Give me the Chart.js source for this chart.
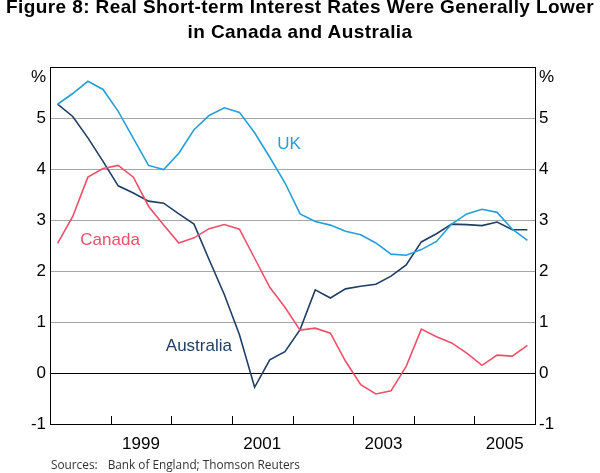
<!DOCTYPE html>
<html><head><meta charset="utf-8">
<script src="https://cdn.jsdelivr.net/npm/chart.js@4.4.1/dist/chart.umd.min.js"></script>
<style>
html,body{margin:0;padding:0;background:#fff;}
#wrap{position:relative;width:600px;height:473px;overflow:hidden;background:#fff;}
canvas{position:absolute;left:0;top:0;}
#title{position:absolute;left:0;top:-5px;width:600px;text-align:center;font-family:"Liberation Sans",Arial,sans-serif;font-weight:bold;font-size:19px;letter-spacing:0.4px;line-height:24.5px;color:#000;}
#src{position:absolute;left:51px;top:456px;font-family:"Open Sans",sans-serif;font-size:11.8px;color:#333;white-space:nowrap;}
#src span{margin-left:10px;}
</style></head><body>
<div id="wrap">
<canvas id="c" width="600" height="473"></canvas>
<div id="title">Figure 8: Real Short-term Interest Rates Were Generally Lower<br>in Canada and Australia</div>
<div id="src">Sources:<span>Bank of England; Thomson Reuters</span></div>
</div>
<script>
// Quarterly observations, 1998Q1 - 2005Q4
const quarters = ['1998Q1','1998Q2','1998Q3','1998Q4','1999Q1','1999Q2','1999Q3','1999Q4',
  '2000Q1','2000Q2','2000Q3','2000Q4','2001Q1','2001Q2','2001Q3','2001Q4',
  '2002Q1','2002Q2','2002Q3','2002Q4','2003Q1','2003Q2','2003Q3','2003Q4',
  '2004Q1','2004Q2','2004Q3','2004Q4','2005Q1','2005Q2','2005Q3','2005Q4'];
const uk = [5.27,5.48,5.72,5.56,5.13,4.60,4.07,3.99,4.31,4.77,5.05,5.20,5.11,4.71,4.23,3.73,
  3.12,2.97,2.90,2.78,2.71,2.55,2.33,2.31,2.42,2.58,2.92,3.12,3.21,3.15,2.82,2.60];
const canada = [2.54,3.07,3.84,4.01,4.07,3.84,3.27,2.90,2.55,2.65,2.83,2.91,2.82,2.25,1.68,1.29,
  0.84,0.88,0.78,0.23,-0.23,-0.41,-0.35,0.13,0.86,0.71,0.59,0.39,0.15,0.35,0.33,0.54];
const australia = [5.27,5.03,4.61,4.15,3.67,3.53,3.37,3.33,3.12,2.92,2.22,1.54,0.75,-0.28,0.26,0.42,
  0.85,1.63,1.47,1.65,1.70,1.74,1.90,2.12,2.57,2.73,2.92,2.91,2.89,2.96,2.81,2.81];
const yearLabels = ['1999','2001','2003','2005'];
const tickMarkYears = [1999,2000,2001,2002,2003,2004,2005];
const yTicks = [-1,0,1,2,3,4,5,6];

const UKC = '#259fd9', CAC = '#ef4f68', AUC = '#1f3e66';
const FONT = '"Liberation Sans", Arial, sans-serif';

// quarter string -> mid-quarter position on a year axis
const qx = quarters.map(q => +q.slice(0,4) + (+q.slice(5) - 0.5) / 4);
const pts = arr => arr.map((v,i) => ({x: qx[i], y: v}));

const seriesLabels = [
  {text:'UK', x:2001.75, y:4.48, color:UKC},
  {text:'Canada', x:1998.50, y:2.60, color:CAC},
  {text:'Australia', x:1999.91, y:0.52, color:AUC}
];

const extras = {
  id:'extras',
  afterDatasetsDraw(chart){
    const {ctx, chartArea:a, scales:{x, y}} = chart;
    ctx.save();
    ctx.strokeStyle = '#000'; ctx.lineWidth = 1;
    tickMarkYears.forEach(yr => {
      const px = Math.round(x.getPixelForValue(yr)) + 0.5;
      ctx.beginPath(); ctx.moveTo(px, a.bottom); ctx.lineTo(px, a.bottom - 8); ctx.stroke();
    });
    ctx.font = '17px ' + FONT;
    ctx.textAlign = 'left'; ctx.textBaseline = 'middle';
    seriesLabels.forEach(l => {
      ctx.fillStyle = l.color;
      ctx.fillText(l.text, x.getPixelForValue(l.x), y.getPixelForValue(l.y));
    });
    ctx.restore();
  }
};

const yTickCfg = {
  stepSize:1, padding:4, color:'#000', font:{family:FONT, size:17},
  callback: v => v === 6 ? ['', '%'] : String(v)
};

new Chart(document.getElementById('c'), {
  type:'line',
  data:{datasets:[
    {label:'UK', data:pts(uk), borderColor:UKC, borderWidth:1.6, pointRadius:0, tension:0},
    {label:'Canada', data:pts(canada), borderColor:CAC, borderWidth:1.6, pointRadius:0, tension:0},
    {label:'Australia', data:pts(australia), borderColor:AUC, borderWidth:1.6, pointRadius:0, tension:0}
  ]},
  options:{
    responsive:false, animation:false, devicePixelRatio:1,
    layout:{padding:{top:67, bottom:0, left:0, right:0}},
    plugins:{legend:{display:false}, tooltip:{enabled:false}},
    scales:{
      x:{type:'linear', min:1998, max:2006,
        afterBuildTicks: s => { s.ticks = yearLabels.map(l => ({value: +l + 0.5})); },
        ticks:{autoSkip:false, maxRotation:0, padding:10, color:'#000', font:{family:FONT, size:17},
          callback: v => String(Math.floor(v))},
        grid:{display:false, drawTicks:false},
        border:{display:false},
        afterFit: s => { s.height = 49; }
      },
      y:{type:'linear', position:'left', min:-1, max:6,
        afterBuildTicks: s => { s.ticks = yTicks.map(v => ({value:v})); },
        ticks:yTickCfg,
        grid:{drawTicks:false, lineWidth:1,
          color: c => ([-1,0,6].includes(c.tick.value) ? '#000' : '#a6a6a6')},
        border:{color:'#000', width:1},
        afterFit: s => { s.width = 50; }
      },
      y2:{type:'linear', position:'right', min:-1, max:6,
        afterBuildTicks: s => { s.ticks = yTicks.map(v => ({value:v})); },
        ticks:yTickCfg,
        grid:{drawOnChartArea:false, drawTicks:false},
        border:{color:'#000', width:1},
        afterFit: s => { s.width = 65; }
      }
    }
  },
  plugins:[extras]
});
</script>
</body></html>
